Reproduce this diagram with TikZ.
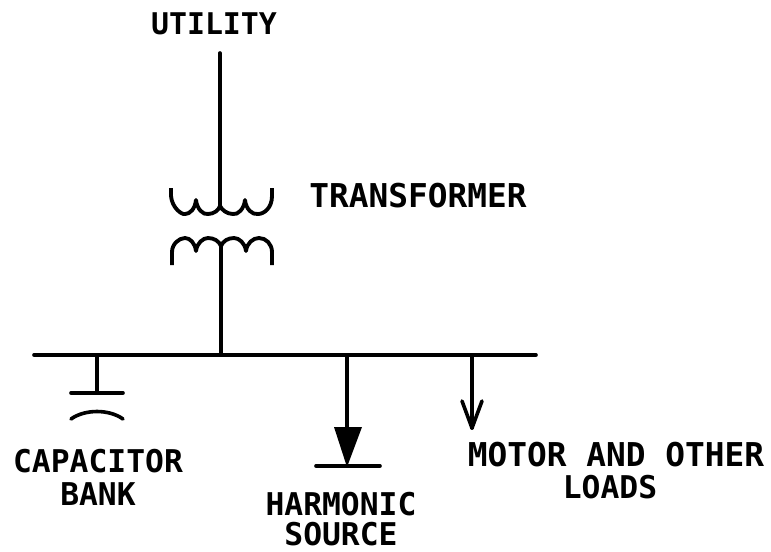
\documentclass[tikz,border=0pt]{standalone}
\usepackage{fontspec}
\setmainfont{DejaVu Sans Mono}
\begin{document}
\begin{tikzpicture}[x=0.75pt,y=-0.75pt,
  wire/.style={line width=2.7pt,line cap=round,line join=round,black},
  coil/.style={line width=2.9pt,line cap=butt,line join=round,black},
  lbl/.style={font=\fontsize{23.5}{26}\selectfont\bfseries,inner sep=0pt,anchor=center,text=black},
  lblwide/.style={lbl,font=\fontsize{24.6}{26}\selectfont\bfseries},
  lblnarrow/.style={lbl,font=\fontsize{22.4}{26}\selectfont\bfseries}]
\useasboundingbox (0,0) rectangle (771,551);
\node[lblnarrow] (utility) at (214,24) {UTILITY};
\node[lblwide] (transformer) at (418,196) {TRANSFORMER};
\node[lbl] (capa) at (98,461) {CAPACITOR};
\node[lbl] (bank) at (98,494) {BANK};
\node[lbl] (harm) at (341,504) {HARMONIC};
\node[lbl] (sour) at (341,534) {SOURCE};
\node[lblwide] (motor) at (616,455) {MOTOR AND OTHER};
\node[lbl] (loads) at (610,487) {LOADS};
\coordinate (top) at (220,53);
\coordinate (pri) at (220,207);
\coordinate (sec) at (221,245);
\coordinate (bustap) at (221,355);
\coordinate (busL) at (34,355);
\coordinate (busR) at (536,355);
\coordinate (capT) at (97,355);
\coordinate (capB) at (97,393);
\coordinate (harmT) at (347,355);
\coordinate (harmB) at (347,430);
\coordinate (motT) at (472,355);
\coordinate (motB) at (472,428);
\draw[wire] (top) -- (pri);
\draw[wire] (sec) -- (bustap);
\draw[wire] (busL) -- (busR);
% primary winding
\draw[coil] (171,188) -- (171,196) .. controls (172,208) and (182,215) .. (185,214)
  .. controls (190,214) and (195,209) .. (196,200)
  .. controls (197,209) and (203,215) .. (208,214)
  .. controls (214,214) and (219,210) .. (220,206)
  .. controls (222,210) and (227,214) .. (233,214)
  .. controls (238,215) and (244,209) .. (245,200)
  .. controls (246,209) and (252,215) .. (258,214)
  .. controls (264,214) and (272,208) .. (272,196) -- (272,188);
% secondary winding
\draw[coil] (172,265) -- (172,252) .. controls (172,244) and (179,238) .. (185,238)
  .. controls (190,238) and (195,243) .. (196,251)
  .. controls (197,243) and (203,238) .. (208,238)
  .. controls (214,238) and (219,241) .. (221,246)
  .. controls (223,241) and (228,238) .. (234,238)
  .. controls (239,238) and (245,243) .. (246,251)
  .. controls (247,243) and (253,238) .. (259,238)
  .. controls (266,238) and (272,244) .. (272,252) -- (272,265);
% capacitor
\draw[wire] (capT) -- (capB);
\draw[wire] (71,393) -- (123,393);
\draw[wire] (71,419) .. controls (85,409) and (109,409) .. (123,419);
% harmonic source
\draw[wire] (harmT) -- (harmB);
\fill[black] (334,427) -- (362,427) -- (347,467) -- cycle;
\draw[wire] (316,466) -- (380,466);
% motor load
\draw[wire] (motT) -- (motB);
\draw[wire] (462,401) -- (motB) -- (482,401);
\end{tikzpicture}
\end{document}
